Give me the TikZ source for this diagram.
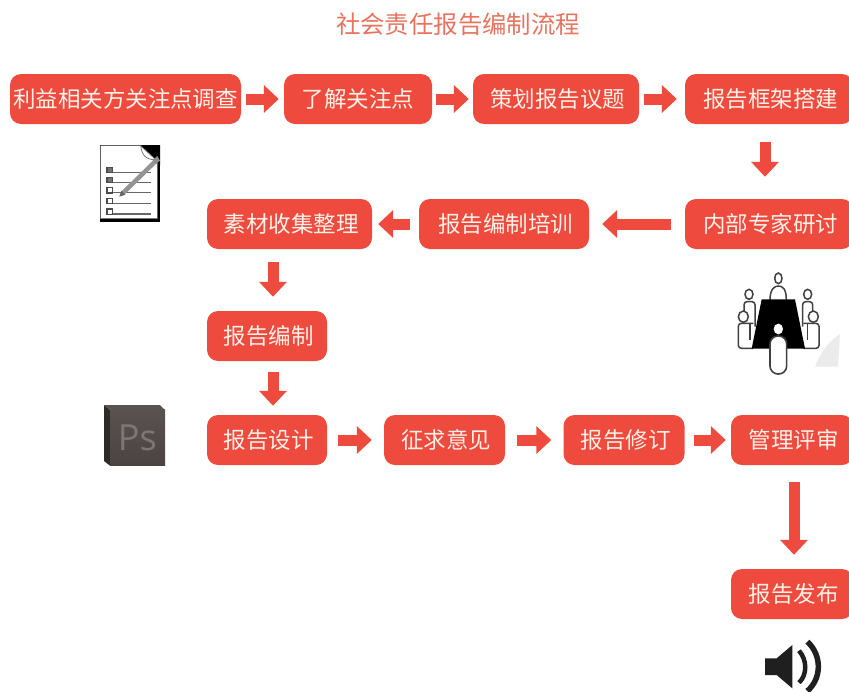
\documentclass[tikz,border=0pt]{standalone}
\usepackage{fontspec}
\setmainfont{Noto Sans CJK SC}
\newfontfamily\latinicon{Open Sans}
\usetikzlibrary{arrows.meta,calc,shadings}
\definecolor{boxred}{HTML}{EE4A3E}
\definecolor{titlered}{HTML}{E8735F}
\definecolor{boxtext}{HTML}{FFF1E8}
\definecolor{psdark}{HTML}{2E2A29}
\definecolor{pstop}{HTML}{5A5250}
\definecolor{psface}{HTML}{4A4341}
\definecolor{psglyph}{HTML}{7F7674}
\tikzset{
  x=1pt,y=-1pt,
  stepbox/.style={fill=boxred,rounded corners=11pt,text=boxtext,font=\fontsize{22.5}{26}\selectfont,inner sep=0pt,anchor=center,minimum height=50pt},
  flow/.style={draw=boxred,line width=11pt,-{Triangle[length=15pt,width=27pt]}},
  iconline/.style={draw=black!75,line width=1.5pt},
}
\newcommand{\boxlabel}[1]{\hspace*{3pt}#1}
\begin{document}
\begin{tikzpicture}
\useasboundingbox (0,0) rectangle (849,691);
\fill[white] (0,0) rectangle (849,691);
\node[text=titlered,font=\fontsize{24.4}{28}\selectfont,inner sep=0pt] (title) at (458,24) {社会责任报告编制流程};
% boxes
\node[stepbox,minimum width=231pt] (b1) at (125.5,99) {利益相关方关注点调查};
\node[stepbox,minimum width=148pt] (b2) at (358,99) {了解关注点};
\node[stepbox,minimum width=166pt] (b3) at (556,99) {\boxlabel{策划报告议题}};
\node[stepbox,minimum width=168pt] (b4) at (769,99) {\boxlabel{报告框架搭建}};
\node[stepbox,minimum width=168pt] (b5) at (769,224) {\boxlabel{内部专家研讨}};
\node[stepbox,minimum width=170pt] (b6) at (504,224) {\boxlabel{报告编制培训}};
\node[stepbox,minimum width=165pt] (b7) at (289.5,224) {\boxlabel{素材收集整理}};
\node[stepbox,minimum width=120pt] (b8) at (267,336) {\boxlabel{报告编制}};
\node[stepbox,minimum width=120pt] (b9) at (267,440) {\boxlabel{报告设计}};
\node[stepbox,minimum width=121pt] (b10) at (444.5,440) {\boxlabel{征求意见}};
\node[stepbox,minimum width=121pt] (b11) at (624,440) {\boxlabel{报告修订}};
\node[stepbox,minimum width=122pt] (b12) at (792,440) {\boxlabel{管理评审}};
\node[stepbox,minimum width=122pt] (b13) at (792,594) {\boxlabel{报告发布}};
% connectors
\draw[flow,shorten <=5pt,shorten >=5pt] (b1.east) -- (b2.west);
\draw[flow,shorten <=4pt,shorten >=4pt] (b2.east) -- (b3.west);
\draw[flow,shorten <=5pt,shorten >=8pt] (b3.east) -- (b4.west);
\draw[flow,shorten <=18pt,shorten >=22pt] ([xshift=-4pt]b4.south) -- ([xshift=-4pt]b5.north);
\draw[flow,shorten <=14pt,shorten >=13pt] (b5.west) -- (b6.east);
\draw[flow,shorten <=9pt,shorten >=6pt] (b6.west) -- (b7.east);
\draw[flow,shorten <=13pt,shorten >=14pt] (b7.south -| 273,0) -- (b8.north -| 273,0);
\draw[flow,shorten <=11pt,shorten >=9pt] (b8.south -| 273,0) -- (b9.north -| 273,0);
\draw[flow,shorten <=11pt,shorten >=12pt] (b9.east) -- (b10.west);
\draw[flow,shorten <=12pt,shorten >=12pt] (b10.east) -- (b11.west);
\draw[flow,shorten <=9pt,shorten >=5pt] (b11.east) -- (b12.west);
\draw[flow,shorten <=17pt,shorten >=14pt] ([xshift=2pt]b12.south) -- ([xshift=2pt]b13.north);
% checklist icon
\begin{scope}[shift={(80,130)},scale=1/3]
  \fill[black] (60,45) rectangle (240,277);
  \fill[white,draw=black!60,line width=.5pt] (62,47) -- (182,47) -- (232,100) -- (232,266) -- (62,266) -- cycle;
  \fill[black] (182,45) -- (240,45) -- (240,105) -- (228,88) -- (198,72) -- cycle;
  \draw[black!60,line width=.7pt,fill=white] (182,47) .. controls (186,75) and (195,88) .. (228,90) -- cycle;
  \foreach \yy in {127,157,188,220,252}{
    \draw[black!60,line width=1.1pt] (100,\yy) -- (212,\yy);
    \draw[black!70,line width=1.1pt,fill=white] (81,{\yy-15}) rectangle (97,{\yy+1});
  }
  \fill[black!55] (84,{127-12}) rectangle (95,{127-2});
  \fill[black!55] (84,{157-12}) rectangle (95,{157-2});
  \draw[black!42,line width=4.5pt] (128,190) -- (225,95);
  \fill[black!60] (118,200) -- (124,182) -- (136,194) -- cycle;
  \fill[black!45] (218,90) -- (232,78) -- (240,92) -- (228,102) -- cycle;
\end{scope}
% meeting icon
\begin{scope}[shift={(720,260)},scale=1/3,iconline]
  \fill[black!8] (285,320) .. controls (300,280) and (325,245) .. (360,222) -- (354,320) -- cycle;
  \draw (175,55) ellipse [x radius=11,y radius=16];
  \draw (150,120) .. controls (150,85) and (165,78) .. (175,78) .. controls (187,78) and (199,85) .. (199,120);
  \draw (87,103) ellipse [x radius=12,y radius=15];
  \draw[rounded corners=3pt] (72,160) -- (72,125) -- (105,125) -- (105,200);
  \draw (263,103) ellipse [x radius=12,y radius=15];
  \draw[rounded corners=3pt] (278,160) -- (278,125) -- (248,125) -- (248,200);
  \draw[fill=white] (70,170) ellipse [x radius=15,y radius=17];
  \draw[rounded corners=3pt] (100,190) -- (55,190) -- (55,265) -- (100,265);
  \draw (90,190) -- (90,240);
  \draw[fill=white] (280,170) ellipse [x radius=15,y radius=17];
  \draw[rounded corners=3pt] (250,190) -- (297,190) -- (297,265) -- (250,265);
  \draw (262,190) -- (262,240);
  \fill[black] (125,118) -- (225,118) -- (255,266) -- (95,266) -- cycle;
  \fill[white] (175,207) ellipse [x radius=14,y radius=16];
  \draw[fill=white,rounded corners=8pt,line width=1.6pt] (150,228) rectangle (200,342);
\end{scope}
% Photoshop icon
\begin{scope}[shift={(90,395)},scale=1/3]
  \fill[psdark] (42,30) -- (60,45) -- (60,212) -- (42,198) -- cycle;
  \fill[pstop] (42,30) -- (210,30) -- (225,45) -- (60,45) -- cycle;
  \fill[top color=pstop,bottom color=psface] (60,42) rectangle (225,212);
  \node[text=psglyph,font=\latinicon\fontsize{36}{36}\selectfont,inner sep=0pt] (psmark) at (142,128) {Ps};
\end{scope}
% speaker icon
\begin{scope}[shift={(720,560)},scale=1/3]
  \fill[black!88] (135,295) -- (170,295) -- (217,255) -- (217,385) -- (170,345) -- (135,345) -- cycle;
  \draw[black!88,line width=4.5pt] (237,272) .. controls (262,300) and (262,345) .. (237,368);
  \draw[black!88,line width=5.5pt] (262,245) .. controls (306,285) and (306,355) .. (262,393);
\end{scope}
\end{tikzpicture}
\end{document}
